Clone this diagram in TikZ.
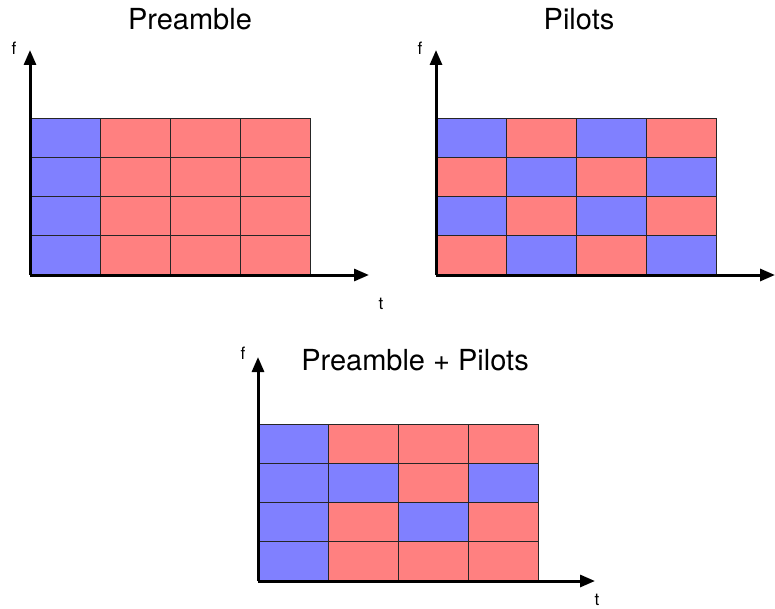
\documentclass[tikz,border=0pt]{standalone}
\usepackage{fontspec}
\setmainfont{TeX Gyre Heros}
\usetikzlibrary{arrows.meta}

\definecolor{pilotblue}{RGB}{128,128,255}
\definecolor{datared}{RGB}{255,128,128}

\tikzset{
	axis/.style={line width=3pt,-{Triangle[length=15pt,width=12pt]}},
	cell/.style={draw=black!85,line width=0.9pt},
	title/.style={font=\fontsize{29}{34}\selectfont,anchor=base},
	axlabel/.style={font=\fontsize{17}{20}\selectfont}
}

\begin{document}
\begin{tikzpicture}[x=1pt,y=-1pt]
	\useasboundingbox (0,0) rectangle (775,609);

	% preamble only: first column blue
	\begin{scope}[shift={(30,118)}]
	\foreach \r/\cols in {0/{pilotblue,datared,datared,datared},1/{pilotblue,datared,datared,datared},2/{pilotblue,datared,datared,datared},3/{pilotblue,datared,datared,datared}}
		\foreach \clr [count=\c from 0] in \cols
			\filldraw[cell,fill=\clr] (70*\c,39.25*\r) rectangle ++(70,39.25);
	\coordinate (preO) at (0,157);
	\coordinate (preF) at (0,-68);
	\coordinate (preT) at (339,157);
	\draw[axis] (preO) -- (preF);
	\draw[axis] (preO) -- (preT);
	\node[axlabel] (preFlab) at (-16,-70) {f};
	\node[axlabel] (preTlab) at (351,186) {t};
	\node[title] (preTitle) at (160,-88) {Preamble};
	\end{scope}

	% pilots only: checkerboard
	\begin{scope}[shift={(436,118)}]
	\foreach \r/\cols in {0/{pilotblue,datared,pilotblue,datared},1/{datared,pilotblue,datared,pilotblue},2/{pilotblue,datared,pilotblue,datared},3/{datared,pilotblue,datared,pilotblue}}
		\foreach \clr [count=\c from 0] in \cols
			\filldraw[cell,fill=\clr] (70*\c,39.25*\r) rectangle ++(70,39.25);
	\coordinate (pilO) at (0,157);
	\coordinate (pilF) at (0,-68);
	\coordinate (pilT) at (339,157);
	\draw[axis] (pilO) -- (pilF);
	\draw[axis] (pilO) -- (pilT);
	\node[axlabel] (pilFlab) at (-16,-70) {f};
	\node[axlabel] (pilTlab) at (344,180) {t};
	\node[title] (pilTitle) at (143,-88) {Pilots};
	\end{scope}

	% preamble + pilots
	\begin{scope}[shift={(258,424)}]
	\foreach \r/\cols in {0/{pilotblue,datared,datared,datared},1/{pilotblue,pilotblue,datared,pilotblue},2/{pilotblue,datared,pilotblue,datared},3/{pilotblue,datared,datared,datared}}
		\foreach \clr [count=\c from 0] in \cols
			\filldraw[cell,fill=\clr] (70*\c,39.25*\r) rectangle ++(70,39.25);
	\coordinate (allO) at (0,157);
	\coordinate (allF) at (0,-67);
	\coordinate (allT) at (337,157);
	\draw[axis] (allO) -- (allF);
	\draw[axis] (allO) -- (allT);
	\node[axlabel] (allFlab) at (-15,-71) {f};
	\node[axlabel] (allTlab) at (339,176) {t};
	\node[title] (allTitle) at (157,-54) {Preamble + Pilots};
	\end{scope}
\end{tikzpicture}
\end{document}
